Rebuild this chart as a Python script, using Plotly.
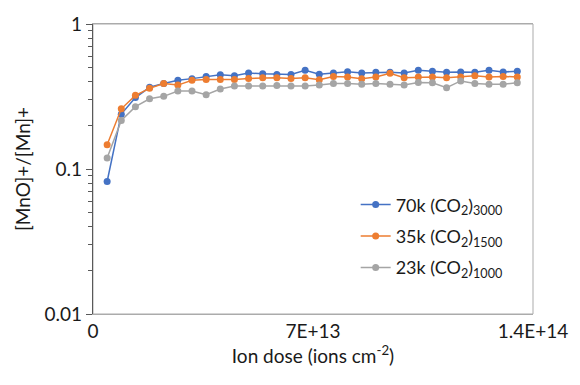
import plotly.graph_objects as go

# Ion dose (ions cm^-2) for each measurement
dose = [4.5e12, 9.0e12, 1.35e13, 1.8e13, 2.25e13, 2.7e13, 3.15e13, 3.6e13, 4.05e13, 4.5e13,
        4.95e13, 5.4e13, 5.85e13, 6.3e13, 6.75e13, 7.2e13, 7.65e13, 8.1e13, 8.55e13, 9.0e13,
        9.45e13, 9.9e13, 1.035e14, 1.08e14, 1.125e14, 1.17e14, 1.215e14, 1.26e14, 1.305e14, 1.35e14]

# [MnO]+/[Mn]+ ratios
ratio_70k = [0.082, 0.239, 0.311, 0.366, 0.389, 0.409, 0.420, 0.435, 0.446, 0.439,
             0.460, 0.453, 0.448, 0.448, 0.479, 0.451, 0.460, 0.469, 0.460, 0.465,
             0.465, 0.460, 0.479, 0.472, 0.465, 0.467, 0.465, 0.479, 0.467, 0.472]
ratio_35k = [0.147, 0.260, 0.322, 0.360, 0.389, 0.379, 0.409, 0.415, 0.415, 0.415,
             0.421, 0.426, 0.426, 0.421, 0.426, 0.413, 0.435, 0.431, 0.420, 0.431,
             0.458, 0.426, 0.431, 0.431, 0.426, 0.431, 0.439, 0.431, 0.435, 0.431]
ratio_23k = [0.119, 0.216, 0.269, 0.305, 0.317, 0.345, 0.345, 0.325, 0.356, 0.373,
             0.373, 0.373, 0.377, 0.373, 0.373, 0.379, 0.389, 0.389, 0.384, 0.389,
             0.384, 0.379, 0.395, 0.393, 0.364, 0.405, 0.389, 0.384, 0.384, 0.393]

series_names = ["70k (CO<sub>2</sub>)<sub>3000</sub>",
                "35k (CO<sub>2</sub>)<sub>1500</sub>",
                "23k (CO<sub>2</sub>)<sub>1000</sub>"]
series_colors = ["#4472C4", "#ED7D31", "#A5A5A5"]

x_tickvals = [0, 7e13, 1.4e14]
x_ticktext = ["0", "7E+13", "1.4E+14"]
y_tickvals = [0.01, 0.1, 1]
y_ticktext = ["0.01", "0.1", "1"]

FONT = "Lato, Open Sans, sans-serif"

fig = go.Figure()
for i, (name, ys, col) in enumerate(zip(series_names, [ratio_70k, ratio_35k, ratio_23k], series_colors)):
    fig.add_trace(go.Scatter(
        x=dose, y=ys, name=name, mode="lines+markers",
        line=dict(color=col, width=1.5),
        marker=dict(color=col, size=7, symbol="circle"),
        legendgroup=f"g{i}",
    ))

fig.update_layout(
    width=580, height=385,
    margin=dict(l=93, r=36, t=13, b=71),
    paper_bgcolor="white", plot_bgcolor="white",
    font=dict(family=FONT, size=19, color="#1a1a1a"),
    showlegend=True,
    legend=dict(x=0.597, y=0.44, xanchor="left", yanchor="top",
                bgcolor="rgba(0,0,0,0)", font=dict(size=18),
                tracegroupgap=5, traceorder="grouped", itemwidth=30),
    xaxis=dict(range=[0, 1.4e14], tickvals=x_tickvals, ticktext=x_ticktext,
               showgrid=False, zeroline=False, showline=True, linecolor="#ABABAB",
               linewidth=1, mirror=True, ticks="",
               title=dict(text="Ion dose (ions cm<sup>-2</sup>)", font=dict(size=19), standoff=4)),
    yaxis=dict(type="log", range=[-2, 0], tickvals=y_tickvals, ticktext=y_ticktext,
               showgrid=False, zeroline=False, showline=True, linecolor="#595959",
               linewidth=1.2, ticks="outside", ticklen=6, tickcolor="#595959",
               minor=dict(ticks="outside", ticklen=4, tickcolor="#595959", showgrid=False,
                          tickvals=[m * d for d in (0.01, 0.1) for m in range(2, 10)]),
               title=dict(text="[MnO]+/[Mn]+", font=dict(size=19), standoff=8)),
)

# light frame along the top and right edges of the plot area
fig.add_shape(type="rect", xref="paper", yref="paper", x0=0, y0=0, x1=1, y1=1,
              line=dict(color="#ABABAB", width=1), layer="below")

fig.write_html("out.html")
